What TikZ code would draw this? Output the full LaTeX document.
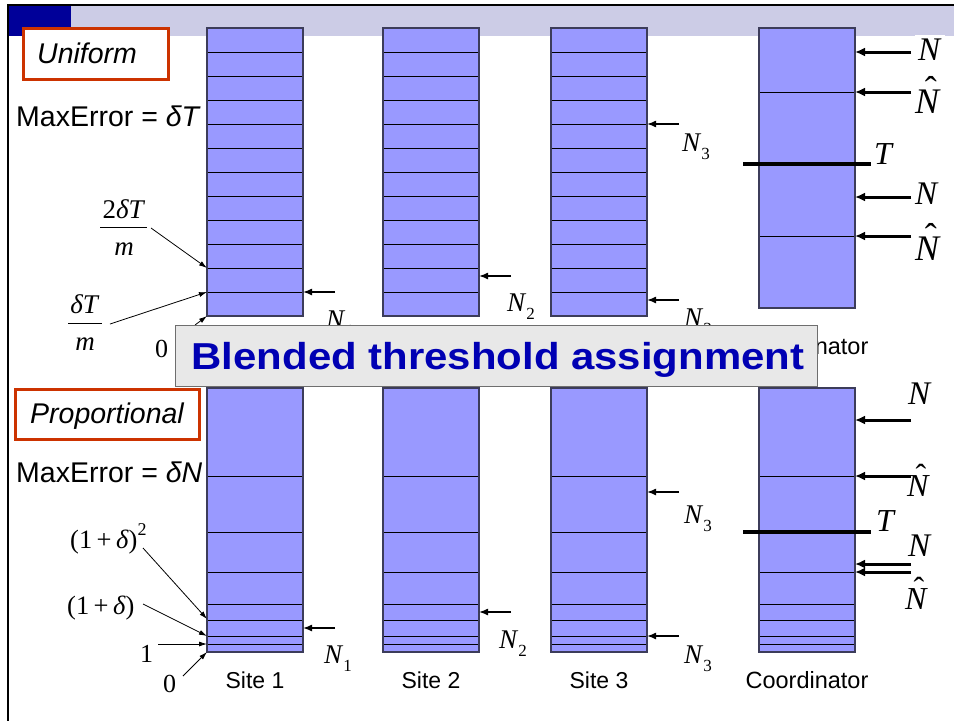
\documentclass[tikz,border=0pt]{standalone}
\usepackage{fontspec}
\setmainfont{Liberation Sans}
\newfontfamily\tnr{Liberation Serif}
\usetikzlibrary{arrows.meta}
\definecolor{colfill}{HTML}{9999FF}
\definecolor{colborder}{HTML}{3C3C5A}
\definecolor{hdrdark}{HTML}{000099}
\definecolor{hdrlight}{HTML}{CCCCE6}
\definecolor{boxred}{HTML}{CC3300}
\definecolor{titleblue}{HTML}{0000B3}
\definecolor{titlefill}{HTML}{E8E8E8}
\definecolor{titleborder}{HTML}{6E6E6E}
\newcommand\fs[1]{\fontsize{#1}{#1}\selectfont}
\newcommand\Nsub[1]{{\tnr\fs{27}\textit{N}\raisebox{-8pt}{\fs{17}#1}}}
\newcommand\Nhat[1]{{\tnr\fs{#1}\ooalign{\textit{N}\cr\hidewidth\kern0.15em\raisebox{0.31em}{ˆ}\hidewidth\cr}}}
\newcommand\Nit[1]{{\tnr\fs{#1}\textit{N}}}
\begin{document}
\begin{tikzpicture}[x=1pt,y=-1pt,
  col/.style={fill=colfill, inner sep=0, outer sep=0, anchor=north west, minimum width=96},
  colframe/.style={draw=colborder, line width=1.3pt},
  div/.style={line width=0.9pt, black},
  tline/.style={line width=3.5pt, black},
  lbl/.style={inner sep=0, anchor=base west},
  lblc/.style={inner sep=0, anchor=base},
  sitearrow/.style={line width=1.5pt, -{Latex[length=9pt,width=7pt]}},
  coordarrow/.style={line width=3pt, -{Latex[length=10pt,width=9pt]}},
  thinarrow/.style={line width=0.8pt, -{Latex[length=8pt,width=5pt]}},
  redbox/.style={draw=boxred, line width=3pt, fill=white, inner sep=0, anchor=north west}
]
\useasboundingbox (0,0) rectangle (954,721);
% header band and frame
\fill[hdrdark] (9,6) rectangle (71,36);
\fill[hdrlight] (71,6) rectangle (954,36);
\draw[line width=2pt] (954,5) -- (8,5) -- (8,721);

% ---------- upper row ----------
\foreach \x/\n in {207/s1u,383/s2u,551/s3u}{
  \node[col, minimum height=288] (\n) at (\x,28) {};
  \foreach \y in {52,76,...,292} \draw[div] (\x,\y) -- ++(96,0);
  \draw[colframe] (\n.north west) rectangle (\n.south east);
}
\node[col, minimum height=280] (cu) at (759,28) {};
\foreach \y in {92,236} \draw[div] (759,\y) -- ++(96,0);
\draw[colframe] (cu.north west) rectangle (cu.south east);
\coordinate (tul) at (743,164); \coordinate (tur) at (871,164);
\draw[tline] (tul) -- (tur);

% ---------- lower row ----------
\foreach \x/\n in {207/s1l,383/s2l,551/s3l}{
  \node[col, minimum height=264] (\n) at (\x,388) {};
  \foreach \y in {476,532,572,604,620,636,644} \draw[div] (\x,\y) -- ++(96,0);
  \draw[colframe] (\n.north west) rectangle (\n.south east);
}
\node[col, minimum height=264] (cl) at (759,388) {};
\foreach \y in {476,572,604,620,636,644} \draw[div] (759,\y) -- ++(96,0);
\draw[colframe] (cl.north west) rectangle (cl.south east);
\coordinate (tll) at (743,532); \coordinate (tlr) at (871,532);
\draw[tline] (tll) -- (tlr);

% ---------- site arrows ----------
\coordinate (a1u) at (335,292); \draw[sitearrow] (a1u) -- (s1u.east |- a1u);
\coordinate (a2u) at (511,276); \draw[sitearrow] (a2u) -- (s2u.east |- a2u);
\coordinate (a3u) at (679,124); \draw[sitearrow] (a3u) -- (s3u.east |- a3u);
\coordinate (a3ub) at (679,300); \draw[sitearrow] (a3ub) -- (s3u.east |- a3ub);
\coordinate (a1l) at (335,628); \draw[sitearrow] (a1l) -- (s1l.east |- a1l);
\coordinate (a2l) at (511,612); \draw[sitearrow] (a2l) -- (s2l.east |- a2l);
\coordinate (a3l) at (679,492); \draw[sitearrow] (a3l) -- (s3l.east |- a3l);
\coordinate (a3lb) at (679,636); \draw[sitearrow] (a3lb) -- (s3l.east |- a3lb);

\node[lbl] (n1u) at (326,328) {\Nsub{1}};
\node[lbl] (n2u) at (507,311) {\Nsub{2}};
\node[lbl] (n3u) at (682,151) {\Nsub{3}};
\node[lbl] (n3ub) at (684,326) {\Nsub{3}};
\node[lbl] (n1l) at (324,663) {\Nsub{1}};
\node[lbl] (n2l) at (499,648) {\Nsub{2}};
\node[lbl] (n3l) at (684,523) {\Nsub{3}};
\node[lbl] (n3lb) at (684,663) {\Nsub{3}};

% ---------- coordinator arrows and labels ----------
\foreach \y/\n in {52/c1,92/c2,197/c3,236/c4,420/c5,476/c6,564/c7,572/c8}{
  \coordinate (\n) at (911,\y);
}
\draw[coordarrow] (c1) -- (cu.east |- c1);
\draw[coordarrow] (c2) -- (cu.east |- c2);
\draw[coordarrow] (c3) -- (cu.east |- c3);
\draw[coordarrow] (c4) -- (cu.east |- c4);
\draw[coordarrow] (c5) -- (cl.east |- c5);
\draw[coordarrow] (c6) -- (cl.east |- c6);
\draw[coordarrow] (c7) -- (cl.east |- c7);
\draw[coordarrow] (c8) -- (cl.east |- c8);

\node[lbl, fill=white, inner sep=3pt] (ln1) at (915,60) {\Nit{33}};
\node[lbl] (ln2) at (915,113) {\Nhat{36}};
\node[lbl] (lt1) at (874,164) {\tnr\fs{32}\textit{T}};
\node[lbl] (ln3) at (915,204) {\Nit{33}};
\node[lbl] (ln4) at (915,260) {\Nhat{36}};
\node[lbl] (ln5) at (908,404) {\Nit{33}};
\node[lbl] (ln6) at (907,496) {\Nhat{32}};
\node[lbl] (lt2) at (876,531) {\tnr\fs{32}\textit{T}};
\node[lbl] (ln7) at (908,556) {\Nit{33}};
\node[lbl] (ln8) at (905,609) {\Nhat{32}};

% ---------- left labels upper ----------
\node[redbox, minimum width=145, minimum height=51] (ubox) at (22,27) {};
\node[lbl] (utxt) at (37,63) {\fs{28.5}\itshape Uniform};
\node[lbl] (me1) at (16,126) {\fs{28.5}MaxError = \textit{δT}};

\node[lblc] (f1n) at (124,218) {\tnr\fs{27}2\textit{δT}};
\coordinate (f1a) at (100,227); \coordinate (f1b) at (147,227);
\draw[line width=0.9pt] (f1a) -- (f1b);
\node[lblc] (f1d) at (124,255) {\tnr\fs{27}\textit{m}};
\node[lblc] (f2n) at (85,313) {\tnr\fs{27}\textit{δT}};
\coordinate (f2a) at (68,323); \coordinate (f2b) at (102,323);
\draw[line width=0.9pt] (f2a) -- (f2b);
\node[lblc] (f2d) at (85,350) {\tnr\fs{27}\textit{m}};
\coordinate (f1s) at (151,228); \coordinate (f1t) at (207,268);
\draw[thinarrow] (f1s) -- (f1t);
\coordinate (f2s) at (110,324); \coordinate (f2t) at (207,292);
\draw[thinarrow] (f2s) -- (f2t);
\node[lbl] (z0u) at (155,357) {\tnr\fs{26}0};
\coordinate (z0us) at (195,325);
\draw[thinarrow] (z0us) -- (s1u.south west);

% ---------- left labels lower ----------
\node[redbox, minimum width=184, minimum height=50] (pbox) at (14,388) {};
\node[lblc] (ptxt) at (107,423) {\fs{28.5}\itshape Proportional};
\node[lbl] (me2) at (16,482) {\fs{28.5}MaxError = \textit{δN}};
\node[lbl] (q2) at (70,548) {\tnr\fs{26.5}(1\,+\,\textit{δ})\raisebox{13pt}{\fs{18}2}};
\node[lbl] (q1) at (67,614) {\tnr\fs{26.5}(1\,+\,\textit{δ})};
\node[lbl] (q0) at (140,662) {\tnr\fs{26}1};
\node[lbl] (qz) at (163,692) {\tnr\fs{26}0};
\coordinate (q2s) at (143,548); \coordinate (q2t) at (207,619);
\draw[thinarrow] (q2s) -- (q2t);
\coordinate (q1s) at (143,604); \coordinate (q1t) at (207,636);
\draw[thinarrow] (q1s) -- (q1t);
\coordinate (q0s) at (158,644); \coordinate (q0t) at (207,644);
\draw[thinarrow] (q0s) -- (q0t);
\coordinate (qzs) at (183,676);
\draw[thinarrow] (qzs) -- (s1l.south west);

% ---------- bottom labels ----------
\node[lblc] (site1) at (255,688) {\fs{23}Site 1};
\node[lblc] (site2) at (431,688) {\fs{23}Site 2};
\node[lblc] (site3) at (599,688) {\fs{23}Site 3};
\node[lblc] (coordl) at (807,688) {\fs{23.5}Coordinator};
\node[lblc] (coordu) at (807,354) {\fs{23.5}Coordinator};

% ---------- title ----------
\node[draw=titleborder, fill=titlefill, line width=1pt, inner sep=0, anchor=north west,
      minimum width=642, minimum height=61] (title) at (175,325) {};
\node[lblc, text=titleblue] (ttxt) at (498,369) {\scalebox{1.118}[1]{\fs{37.5}\bfseries Blended threshold assignment}};
\end{tikzpicture}
\end{document}
